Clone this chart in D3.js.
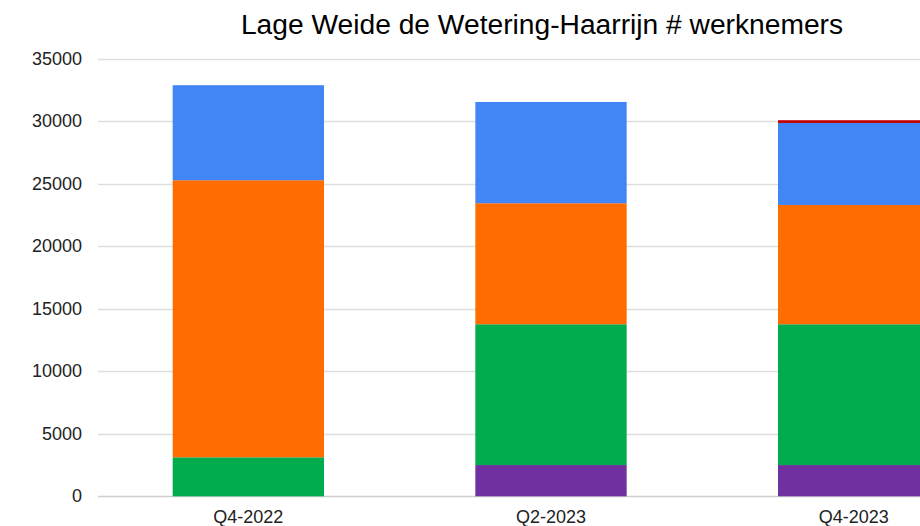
<!DOCTYPE html>
<html>
<head>
<meta charset="utf-8">
<script src="https://cdn.jsdelivr.net/npm/d3@7"></script>
<style>
  body { margin: 0; background: #fff; }
  svg { display: block; overflow: hidden; font-family: "Liberation Sans", Arial, sans-serif; }
</style>
</head>
<body>
<div class="container"></div>
<script>
// chart data (stacked bottom to top)
var categories = ["Q4-2022", "Q2-2023", "Q4-2023"];
var seriesNames = ["reeks 1", "reeks 2", "reeks 3", "reeks 4", "reeks 5"];
var purpleValues = [0, 2500, 2500];
var greenValues = [3120, 11260, 11260];
var orangeValues = [22160, 9680, 9540];
var blueValues = [7600, 8100, 6560];
var redValues = [0, 0, 220];
var yTicks = [0, 5000, 10000, 15000, 20000, 25000, 30000, 35000];
var colors = ["#7030a0", "#00ac4e", "#ff6d01", "#4285f4", "#c00000"];
var title = "Lage Weide de Wetering-Haarrijn # werknemers";

var width = 920, height = 526;

var svg = d3.select(".container").append("svg")
  .attr("width", width)
  .attr("height", height);

// build rows for the stack
var allSeries = [purpleValues, greenValues, orangeValues, blueValues, redValues];
var rows = categories.map(function(c, i) {
  var row = { cat: c };
  seriesNames.forEach(function(s, j) { row[s] = allSeries[j][i]; });
  return row;
});
var stacked = d3.stack().keys(seriesNames)(rows);

// the plot runs past the right edge in the original, so the band range does too
var x = d3.scaleBand().domain(categories).range([97, 1005])
  .paddingInner(0.5).paddingOuter(0.25);
var y = d3.scaleLinear().domain([0, 35000]).range([496.3, 58.7]);

// gridlines
svg.append("g")
  .selectAll("line")
  .data(yTicks)
  .enter().append("line")
  .attr("x1", 98).attr("x2", width)
  .attr("y1", function(d) { return Math.round(y(d)) + 0.5; })
  .attr("y2", function(d) { return Math.round(y(d)) + 0.5; })
  .attr("stroke", function(d) { return d === 0 ? "#cfcfcf" : "#dedede"; })
  .attr("stroke-width", 1.3);

// y tick labels
svg.append("g")
  .selectAll("text")
  .data(yTicks)
  .enter().append("text")
  .attr("x", 82)
  .attr("y", function(d) { return y(d) + 6; })
  .attr("text-anchor", "end")
  .attr("font-size", 18)
  .attr("fill", "#222")
  .text(function(d) { return d; });

// bars
svg.append("g")
  .selectAll("g")
  .data(stacked)
  .enter().append("g")
  .attr("fill", function(d, i) { return colors[i]; })
  .selectAll("rect")
  .data(function(d) { return d; })
  .enter().append("rect")
  .attr("x", function(d) { return x(d.data.cat); })
  .attr("width", x.bandwidth())
  .attr("y", function(d) { return y(d[1]); })
  .attr("height", function(d) { return y(d[0]) - y(d[1]); });

// x labels
svg.append("g")
  .selectAll("text")
  .data(categories)
  .enter().append("text")
  .attr("x", function(d) { return x(d) + x.bandwidth() / 2; })
  .attr("y", 523)
  .attr("text-anchor", "middle")
  .attr("font-size", 18)
  .attr("fill", "#222")
  .text(function(d) { return d; });

// title
svg.append("text")
  .attr("x", 542)
  .attr("y", 34)
  .attr("text-anchor", "middle")
  .attr("font-size", 28.2)
  .attr("fill", "#000")
  .text(title);
</script>
</body>
</html>
